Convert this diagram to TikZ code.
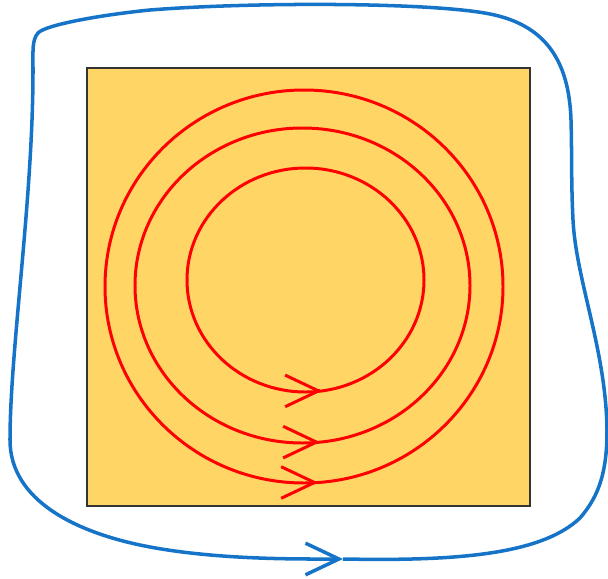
\documentclass[tikz,border=0pt]{standalone}
\usepackage{xcolor}
\usepackage{tikz}
\usetikzlibrary{arrows.meta, positioning}
\definecolor{plateyellow}{RGB}{255, 214, 102}
\definecolor{loopblue}{RGB}{22, 116, 200}
\definecolor{fieldred}{RGB}{255, 0, 0}

\begin{document}
\begin{tikzpicture}[x=0.02cm, y=-0.02cm,
        fieldline/.style={draw=fieldred, line width=1.7pt},
        fieldtip/.style={fieldline, -{Straight Barb[length=19pt, width=18pt]}},
        boundary/.style={draw=loopblue, line width=2pt, -{Straight Barb[length=19pt, width=18pt]}}]
        \useasboundingbox (0,0) rectangle (608,578);

        % Plate
        \node[draw=black!80, fill=plateyellow, line width=0.9pt, inner sep=0pt,
              minimum width=8.86cm, minimum height=8.76cm] (plate) at (308.5, 287) {};

        % Centres of the field lines
        \coordinate (inner) at (305.5, 280);
        \coordinate (middle) at (302.5, 285.5);
        \coordinate (outer) at (304, 286.5);

        % Field lines
        \draw[fieldline] (inner) ellipse[x radius=118.5, y radius=112];
        \draw[fieldline] (middle) ellipse[x radius=167.5, y radius=157.5];
        \draw[fieldline] (outer) ellipse[x radius=199, y radius=196.5];

        % Arrow tips on the field lines
        \coordinate (tipinner) at (322, 390.9);
        \coordinate (tipmiddle) at (320, 442.1);
        \coordinate (tipouter) at (318, 482.5);
        \draw[fieldtip] (tipinner) ++(-2,0) -- (tipinner);
        \draw[fieldtip] (tipmiddle) ++(-2,0) -- (tipmiddle);
        \draw[fieldtip] (tipouter) ++(-2,0) -- (tipouter);

        % Outer loop
        \coordinate (tip) at (343, 559);
        \draw[boundary] (tip) .. controls (450,561) and (540,556) .. (580,518)
            .. controls (600,495) and (607,470) .. (607,430)
            .. controls (606,350) and (576,280) .. (573,220)
            .. controls (571,180) and (572,150) .. (571,120)
            .. controls (569,60) and (545,25) .. (490,14)
            .. controls (430,2) and (250,2) .. (150,10)
            .. controls (100,15) and (45,25) .. (38,33)
            .. controls (32,40) and (33,50) .. (33,70)
            .. controls (33,200) and (10,350) .. (10,440)
            .. controls (10,500) and (75,533) .. (150,547)
            .. controls (220,560) and (300,559) .. (tip);
    \end{tikzpicture}
\end{document}
